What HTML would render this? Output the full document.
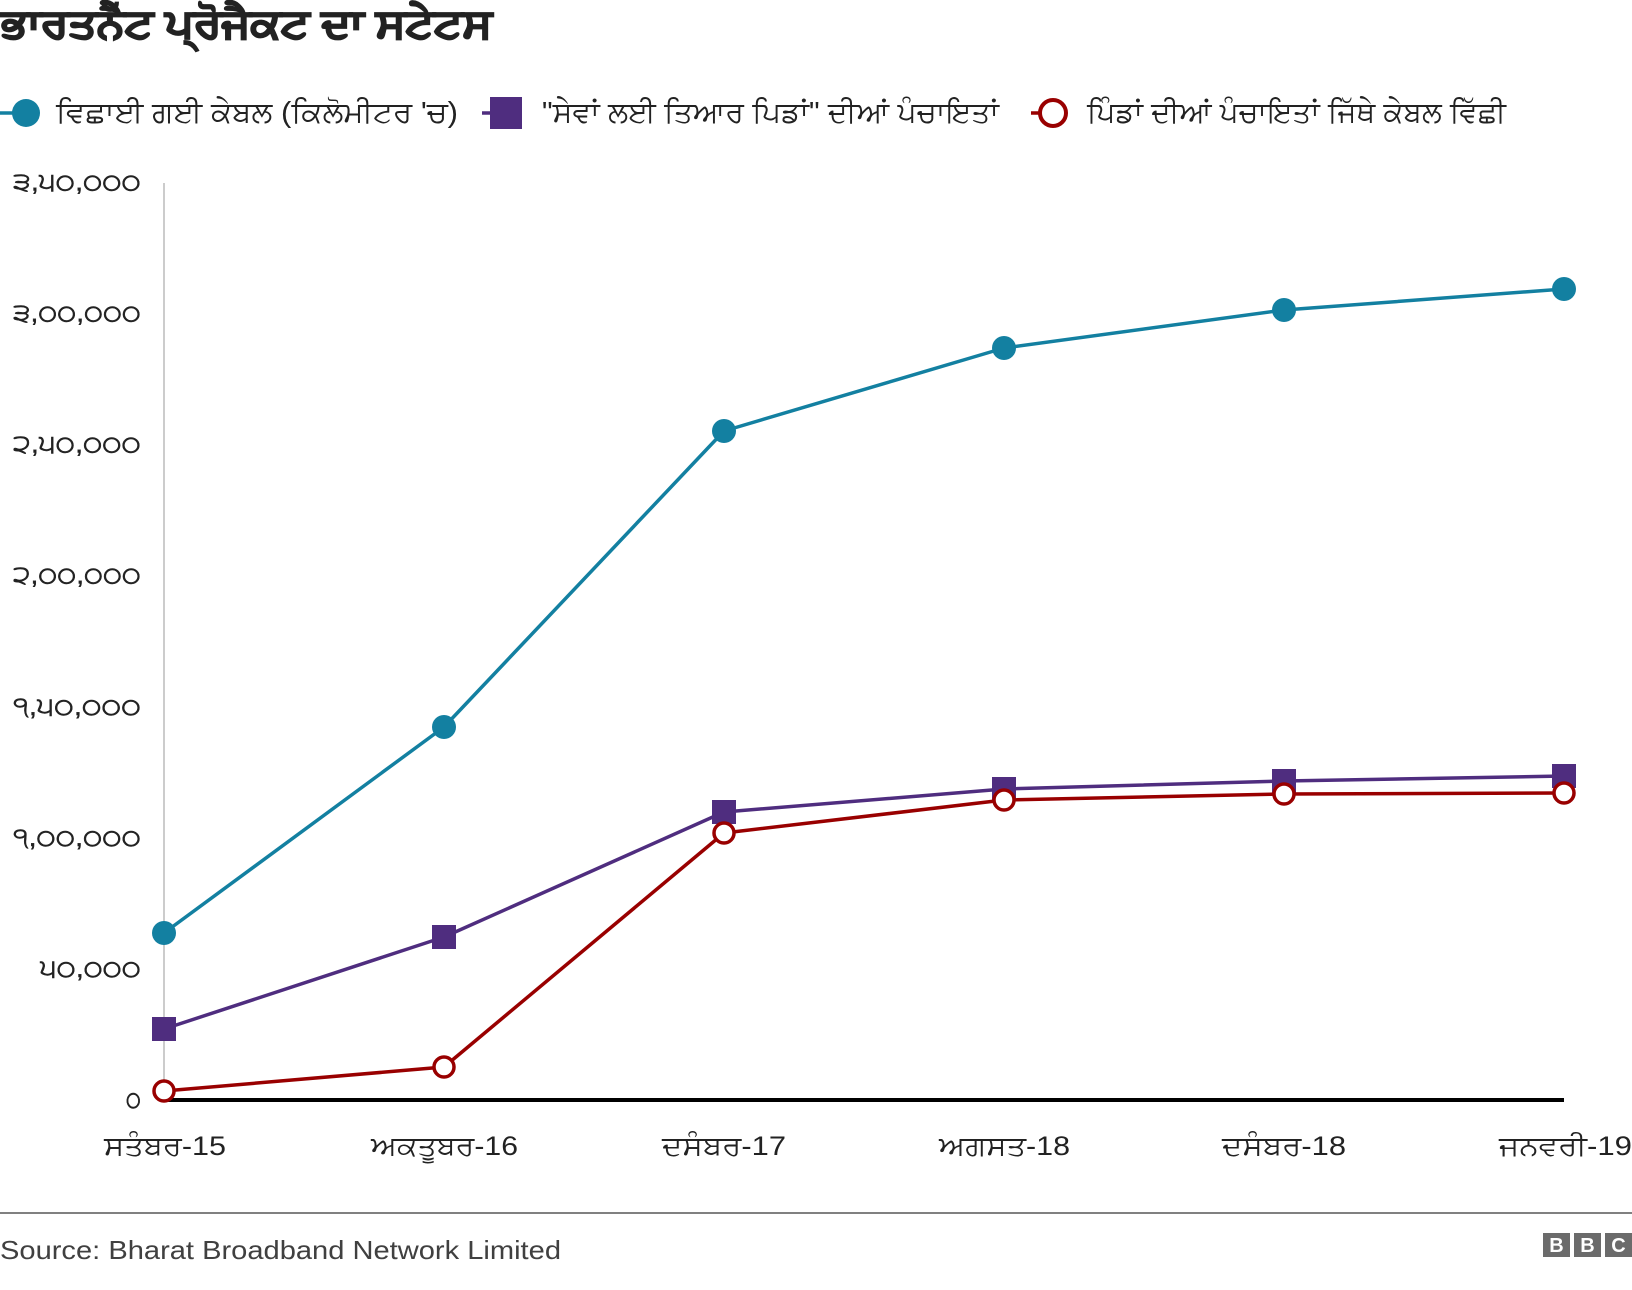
<!DOCTYPE html>
<html>
<head>
<meta charset="utf-8">
<style>
  html, body { margin: 0; padding: 0; background: #ffffff; }
  body { width: 1632px; height: 1290px; overflow: hidden; }
  svg { display: block; }
  text { font-family: "Liberation Sans", "DejaVu Sans", sans-serif; }
</style>
</head>
<body>
<svg width="1632" height="1290" viewBox="0 0 1632 1290" xmlns="http://www.w3.org/2000/svg">
  <rect x="0" y="0" width="1632" height="1290" fill="#ffffff"/>

  <!-- Title -->
  <text x="1" y="37" font-size="40" font-weight="bold" fill="#222222" stroke="#222222" stroke-width="1.6" textLength="491" lengthAdjust="spacingAndGlyphs">ਭਾਰਤਨੈੱਟ ਪ੍ਰੋਜੈਕਟ ਦਾ ਸਟੇਟਸ</text>

  <!-- Legend -->
  <line x1="0" y1="113" x2="18" y2="113" stroke="#1380A1" stroke-width="3.5"/>
  <circle cx="26" cy="113" r="14" fill="#1380A1"/>
  <text x="56" y="122" font-size="29" fill="#222222" textLength="402" lengthAdjust="spacingAndGlyphs">ਵਿਛਾਈ ਗਈ ਕੇਬਲ (ਕਿਲੋਮੀਟਰ 'ਚ)</text>

  <line x1="482" y1="113" x2="492" y2="113" stroke="#4F2D7F" stroke-width="3.5"/>
  <rect x="490" y="97" width="32" height="32" fill="#4F2D7F"/>
  <text x="542" y="122" font-size="29" fill="#222222" textLength="457" lengthAdjust="spacingAndGlyphs">"ਸੇਵਾਂ ਲਈ ਤਿਆਰ ਪਿਡਾਂ" ਦੀਆਂ ਪੰਚਾਇਤਾਂ</text>

  <line x1="1031" y1="113" x2="1041" y2="113" stroke="#990000" stroke-width="3.5"/>
  <circle cx="1053" cy="113" r="13" fill="#ffffff" stroke="#990000" stroke-width="4"/>
  <text x="1087" y="122" font-size="29" fill="#222222" textLength="419" lengthAdjust="spacingAndGlyphs">ਪਿੰਡਾਂ ਦੀਆਂ ਪੰਚਾਇਤਾਂ ਜਿੱਥੇ ਕੇਬਲ ਵਿੱਛੀ</text>

  <!-- Y axis labels -->
  <g font-size="26" fill="#222222" stroke="#222222" stroke-width="0.4" text-anchor="end">
    <text x="141" y="190.5" textLength="128" lengthAdjust="spacingAndGlyphs">੩,੫੦,੦੦੦</text>
    <text x="141" y="321.6" textLength="128" lengthAdjust="spacingAndGlyphs">੩,੦੦,੦੦੦</text>
    <text x="141" y="452.6" textLength="128" lengthAdjust="spacingAndGlyphs">੨,੫੦,੦੦੦</text>
    <text x="141" y="583.7" textLength="128" lengthAdjust="spacingAndGlyphs">੨,੦੦,੦੦੦</text>
    <text x="141" y="714.8" textLength="128" lengthAdjust="spacingAndGlyphs">੧,੫੦,੦੦੦</text>
    <text x="141" y="845.9" textLength="128" lengthAdjust="spacingAndGlyphs">੧,੦੦,੦੦੦</text>
    <text x="141" y="976.9" textLength="101" lengthAdjust="spacingAndGlyphs">੫੦,੦੦੦</text>
    <text x="141" y="1108" textLength="15" lengthAdjust="spacingAndGlyphs">੦</text>
  </g>

  <!-- Vertical gridline -->
  <line x1="164" y1="183" x2="164" y2="1100" stroke="#cccccc" stroke-width="2"/>

  <!-- Zero axis -->
  <line x1="164" y1="1100" x2="1564" y2="1100" stroke="#000000" stroke-width="4"/>

  <!-- Teal series -->
  <polyline fill="none" stroke="#1380A1" stroke-width="3.5" stroke-linejoin="round"
    points="164,933 444,727 724,431 1004,348 1284,310 1564,289"/>
  <g fill="#1380A1">
    <circle cx="164" cy="933" r="12"/>
    <circle cx="444" cy="727" r="12"/>
    <circle cx="724" cy="431" r="12"/>
    <circle cx="1004" cy="348" r="12"/>
    <circle cx="1284" cy="310" r="12"/>
    <circle cx="1564" cy="289" r="12"/>
  </g>

  <!-- Purple series -->
  <polyline fill="none" stroke="#4F2D7F" stroke-width="3.5" stroke-linejoin="round"
    points="164,1029 444,937 724,812 1004,789 1284,781 1564,776"/>
  <g fill="#4F2D7F">
    <rect x="152" y="1017" width="24" height="24"/>
    <rect x="432" y="925" width="24" height="24"/>
    <rect x="712" y="800" width="24" height="24"/>
    <rect x="992" y="777" width="24" height="24"/>
    <rect x="1272" y="769" width="24" height="24"/>
    <rect x="1552" y="764" width="24" height="24"/>
  </g>

  <!-- Red series -->
  <polyline fill="none" stroke="#990000" stroke-width="3.5" stroke-linejoin="round"
    points="164,1091 444,1067 724,833 1004,800 1284,794 1564,793"/>
  <g fill="#ffffff" stroke="#990000" stroke-width="3.5">
    <circle cx="164" cy="1091" r="10"/>
    <circle cx="444" cy="1067" r="10"/>
    <circle cx="724" cy="833" r="10"/>
    <circle cx="1004" cy="800" r="10"/>
    <circle cx="1284" cy="794" r="10"/>
    <circle cx="1564" cy="793" r="10"/>
  </g>

  <!-- X axis labels -->
  <g font-size="27" fill="#222222">
    <text x="104" y="1155" textLength="122" lengthAdjust="spacingAndGlyphs">ਸਤੰਬਰ-15</text>
    <text x="371" y="1155" textLength="147" lengthAdjust="spacingAndGlyphs">ਅਕਤੂਬਰ-16</text>
    <text x="662" y="1155" textLength="124" lengthAdjust="spacingAndGlyphs">ਦਸੰਬਰ-17</text>
    <text x="939" y="1155" textLength="131" lengthAdjust="spacingAndGlyphs">ਅਗਸਤ-18</text>
    <text x="1222" y="1155" textLength="124" lengthAdjust="spacingAndGlyphs">ਦਸੰਬਰ-18</text>
    <text x="1499" y="1155" textLength="133" lengthAdjust="spacingAndGlyphs">ਜਨਵਰੀ-19</text>
  </g>

  <!-- Footer -->
  <line x1="0" y1="1213" x2="1632" y2="1213" stroke="#808080" stroke-width="2"/>
  <text x="0" y="1259" font-size="26" fill="#404040" textLength="561" lengthAdjust="spacingAndGlyphs">Source: Bharat Broadband Network Limited</text>

  <!-- BBC logo -->
  <g>
    <rect x="1543" y="1233" width="27" height="24" fill="#6b6b6b"/>
    <rect x="1574" y="1233" width="27" height="24" fill="#6b6b6b"/>
    <rect x="1605" y="1233" width="27" height="24" fill="#6b6b6b"/>
    <g font-size="20" font-weight="bold" fill="#ffffff" text-anchor="middle">
      <text x="1556.5" y="1252">B</text>
      <text x="1587.5" y="1252">B</text>
      <text x="1618.5" y="1252">C</text>
    </g>
  </g>
</svg>
</body>
</html>
